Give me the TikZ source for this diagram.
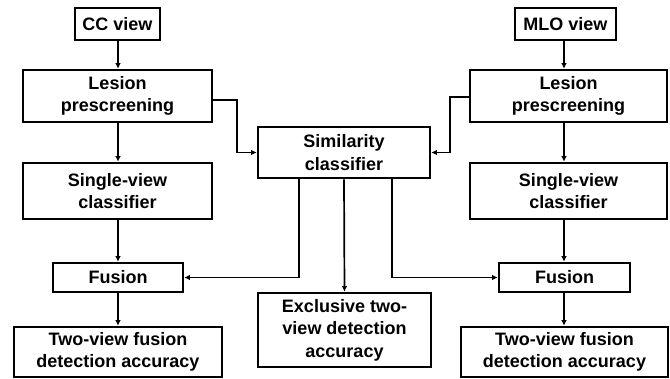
\documentclass[tikz,border=0pt]{standalone}
\usepackage{fontspec}
\setmainfont{Liberation Sans}
\usetikzlibrary{arrows.meta}
\begin{document}
\begin{tikzpicture}[x=1pt,y=-1pt,
  box/.style={draw,line width=2.6pt,align=center,inner sep=0pt,
    font=\fontsize{18}{22.5}\selectfont\bfseries},
  conn/.style={line width=1.7pt,-{Latex[length=5.5pt,width=5.5pt]}},
  plain/.style={line width=1.7pt}]
\useasboundingbox (0,0) rectangle (670,379);
\node[box,minimum width=85pt,minimum height=32pt] (CC) at (117.5,24) {CC view};
\node[box,minimum width=189pt,minimum height=52pt] (LesL) at (117.5,96) {Lesion\\prescreening};
\node[box,minimum width=189pt,minimum height=56pt] (SVL) at (117.5,191) {Single-view\\classifier};
\node[box,minimum width=130pt,minimum height=29pt] (FusL) at (118,277.5) {Fusion};
\node[box,minimum width=208pt,minimum height=50pt] (TwoL) at (118,352) {Two-view fusion\\detection accuracy};
\node[box,minimum width=172pt,minimum height=51pt] (Sim) at (344,152.5) {Similarity\\classifier};
\node[box,minimum width=173pt,minimum height=74pt] (Exc) at (344.5,330) {Exclusive two-\\view detection\\accuracy};
\node[box,minimum width=101pt,minimum height=32pt] (MLO) at (565.5,24) {MLO view};
\node[box,minimum width=197pt,minimum height=52pt] (LesR) at (568.5,96) {Lesion\\prescreening};
\node[box,minimum width=197pt,minimum height=56pt] (SVR) at (568.5,191) {Single-view\\classifier};
\node[box,minimum width=131pt,minimum height=29pt] (FusR) at (564.5,277.5) {Fusion};
\node[box,minimum width=207pt,minimum height=50pt] (TwoR) at (564.5,352) {Two-view fusion\\detection accuracy};
% left column
\draw[conn] (CC.south -| 118,0) -- (LesL.north -| 118,0);
\draw[conn] (LesL.south -| 118,0) -- (SVL.north -| 118,0);
\draw[conn] (SVL.south -| 118,0) -- (FusL.north -| 118,0);
\draw[conn] (FusL.south -| 118,0) -- (TwoL.north -| 118,0);
% right column
\draw[conn] (MLO.south -| 564,0) -- (LesR.north -| 564,0);
\draw[conn] (LesR.south -| 564,0) -- (SVR.north -| 564,0);
\draw[conn] (SVR.south -| 564,0) -- (FusR.north -| 564,0);
\draw[conn] (FusR.south -| 564,0) -- (TwoR.north -| 564,0);
% to similarity
\coordinate (la) at (237,100);
\coordinate (ra) at (450,97);
\draw[conn] (LesL.east |- la) -- (la) -- (la |- Sim.west) -- (Sim.west);
\draw[conn] (LesR.west |- ra) -- (ra) -- (ra |- Sim.east) -- (Sim.east);
% from similarity
\draw[conn] (Sim.south) -- (Exc.north);
\coordinate (lb) at (299,0);
\coordinate (rb) at (392,0);
\draw[conn] (Sim.south -| lb) -- (lb |- FusL.east) -- (FusL.east);
\draw[conn] (Sim.south -| rb) -- (rb |- FusR.west) -- (FusR.west);
\end{tikzpicture}
\end{document}
